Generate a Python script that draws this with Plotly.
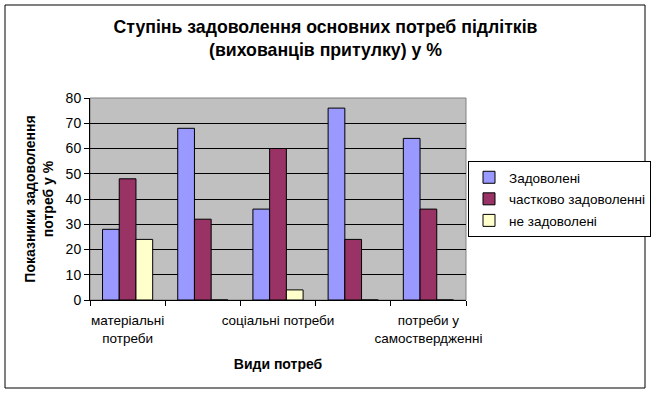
import plotly.graph_objects as go

categories = ["матеріальні потреби", "потреби в безпеці", "соціальні потреби",
              "потреби у визнанні", "потреби у самоствердженні"]
tick_labels = ["матеріальні<br>потреби", "", "соціальні потреби", "", "потреби у<br>самоствердженні"]
satisfied = [28, 68, 36, 76, 64]
partly = [48, 32, 60, 24, 36]
not_satisfied = [24, 0, 4, 0, 0]

series_names = ["Задоволені", "частково задоволенні", "не задоволені"]
colors = ["#9999FF", "#993366", "#FFFFCC"]

W, H = 651, 395
L, R, T, B = 90, 466, 98, 300  # plot area in pixels

fig = go.Figure()
for name, vals, col in zip(series_names, [satisfied, partly, not_satisfied], colors):
    fig.add_trace(go.Bar(x=categories, y=vals, name=name, legendgroup=name,
                         marker=dict(color=col, line=dict(color="black", width=1))))

def px2paper_x(px):
    return (px - L) / (R - L)

def px2paper_y(py):
    return (B - py) / (B - T)

FONT = "Liberation Sans, Arial, sans-serif"

fig.update_layout(
    width=W, height=H,
    margin=dict(l=L, r=W - R, t=T, b=H - B, autoexpand=False),
    paper_bgcolor="white",
    plot_bgcolor="#C0C0C0",
    font=dict(family=FONT, size=13, color="black"),
    barmode="group",
    bargap=0.333,
    bargroupgap=0,
    title=dict(text="<b>Ступінь задоволення основних потреб підлітків<br>(вихованців притулку) у %</b>",
               x=0.5, xref="container", xanchor="center",
               y=1 - 33 / H, yref="container", yanchor="middle",
               font=dict(size=17.7, family=FONT)),
    xaxis=dict(type="category", tickmode="array", tickvals=categories, ticktext=tick_labels,
               tickson="boundaries", ticks="outside", ticklen=5, tickcolor="black",
               tickangle=0, automargin=False, ticklabelstandoff=8,
               showline=True, linecolor="black", linewidth=1, showgrid=False,
               tickfont=dict(size=13.5),
               title=dict(text="<b>Види потреб</b>", font=dict(size=14), standoff=14)),
    yaxis=dict(range=[0, 80], dtick=10, ticks="outside", ticklen=5, tickcolor="black",
               automargin=False,
               showline=True, linecolor="black", linewidth=1,
               showgrid=True, gridcolor="black", gridwidth=1, zeroline=False,
               tickfont=dict(size=14),
               title=dict(text="<b>Показники задоволення<br>потреб у %</b>", font=dict(size=14), standoff=8)),
    legend=dict(x=px2paper_x(468), y=px2paper_y(161), xanchor="left", yanchor="top",
                bordercolor="black", borderwidth=1, bgcolor="white",
                font=dict(size=13.5), tracegroupgap=1, itemwidth=30),
    showlegend=True,
    shapes=[
        dict(type="rect", xref="paper", yref="paper",
             x0=px2paper_x(5), x1=px2paper_x(645), y0=px2paper_y(388), y1=px2paper_y(5),
             line=dict(color="black", width=1), fillcolor="rgba(0,0,0,0)", layer="below"),
        dict(type="rect", xref="paper", yref="paper", x0=0, x1=1, y0=0, y1=1,
             line=dict(color="#808080", width=1), fillcolor="rgba(0,0,0,0)", layer="below"),
    ],
)

fig.write_html("out.html", config={"displayModeBar": False},
               post_script="document.body.style.margin='0';document.body.style.padding='0';")
